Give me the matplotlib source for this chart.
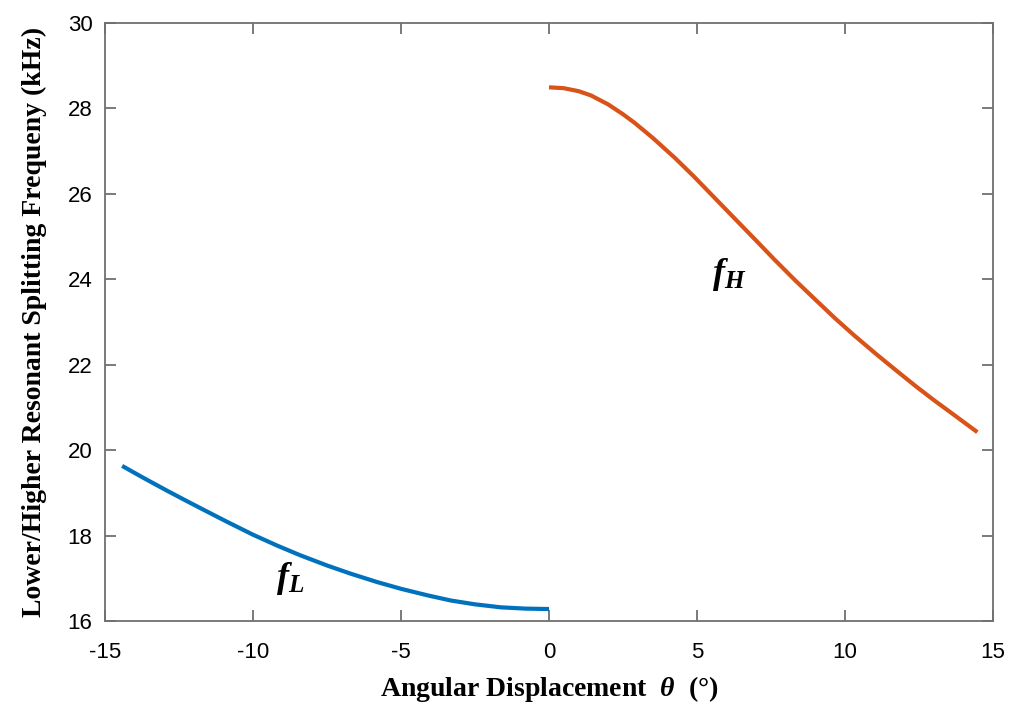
import numpy as np
import matplotlib.pyplot as plt
import matplotlib.ticker as ticker

plt.rcParams['mathtext.fontset'] = 'custom'
plt.rcParams['mathtext.it'] = 'Liberation Serif:italic:bold'
plt.rcParams['mathtext.rm'] = 'Liberation Serif:bold'
plt.rcParams['axes.unicode_minus'] = False

# lower splitting frequency (theta <= 0)
theta_L = [-14.42, -13.7, -12.93, -12.3, -11.8, -10.9, -10.0, -9.2, -8.41, -7.5, -6.71,
           -5.8, -4.98, -4.1, -3.32, -2.5, -1.63, -0.8, 0.0]
f_L = [19.63, 19.35, 19.06, 18.83, 18.65, 18.33, 18.02, 17.77, 17.54, 17.30, 17.11,
       16.91, 16.75, 16.60, 16.48, 16.39, 16.32, 16.29, 16.28]

# higher splitting frequency (theta >= 0)
theta_H = [0.0, 0.5, 1.0, 1.42, 2.0, 2.5, 2.89, 3.5, 4.25, 4.9, 5.6, 6.3, 6.96, 7.6, 8.32,
           9.0, 9.67, 10.3, 11.03, 11.7, 12.38, 13.0, 13.63, 14.47]
f_H = [28.49, 28.47, 28.40, 28.30, 28.09, 27.86, 27.66, 27.31, 26.84, 26.40, 25.90,
       25.40, 24.93, 24.47, 23.97, 23.52, 23.08, 22.69, 22.26, 21.88, 21.50, 21.17,
       20.85, 20.42]

fig = plt.figure(figsize=(10.16, 7.04), dpi=100)
ax = fig.add_axes([0.1033, 0.1179, 0.8741, 0.8497])

ax.plot(theta_L, f_L, color='#0072BD', lw=3, solid_capstyle='butt', solid_joinstyle='round')
ax.plot(theta_H, f_H, color='#D95319', lw=3, solid_capstyle='butt', solid_joinstyle='round')

ax.text(6.1, 24.1, r'$f_H$', fontsize=26, ha='center', va='center')
ax.text(-8.75, 17.0, r'$f_L$', fontsize=26, ha='center', va='center')

ax.set_xlim(-15, 15)
ax.set_ylim(16, 30)
ax.xaxis.set_major_locator(ticker.MultipleLocator(5))
ax.yaxis.set_major_locator(ticker.MultipleLocator(2))

for s in ax.spines.values():
    s.set_color('#707070')
    s.set_linewidth(1.3)
ax.tick_params(direction='in', length=8, width=1.3, color='#707070',
               top=True, right=True, labelsize=16)
ax.tick_params(axis='x', pad=15)
ax.tick_params(axis='y', pad=9)
for lab in ax.get_xticklabels() + ax.get_yticklabels():
    lab.set_fontfamily('Liberation Sans')

ax.set_xlabel(r'Angular Displacement  $\theta$  (°)', fontsize=20,
              fontfamily='Liberation Serif', fontweight='bold', labelpad=8)
ax.set_ylabel('Lower/Higher Resonant Splitting Frequeny (kHz)', fontsize=20,
              fontfamily='Liberation Serif', fontweight='bold', labelpad=15)

plt.savefig('out.png', dpi=100)
